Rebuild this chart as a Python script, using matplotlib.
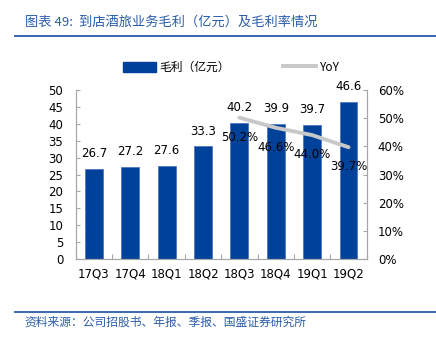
# -*- coding: utf-8 -*-
"""到店酒旅业务毛利(亿元)及毛利率 —— 柱 + 折线双轴图。"""
import numpy as np
import matplotlib
matplotlib.use("Agg")
import matplotlib.pyplot as plt
from matplotlib.lines import Line2D
from matplotlib.patches import Patch

plt.rcParams["font.family"] = ["Noto Sans CJK SC", "DejaVu Sans"]

quarters = ["17Q3", "17Q4", "18Q1", "18Q2", "18Q3", "18Q4", "19Q1", "19Q2"]
gross_profit = [26.7, 27.2, 27.6, 33.3, 40.2, 39.9, 39.7, 46.6]
yoy_quarters = ["18Q3", "18Q4", "19Q1", "19Q2"]
yoy = [0.502, 0.466, 0.440, 0.397]

BLUE = "#00419A"
GRAY_LINE = "#C8C8C8"
SPINE = "#A6A6A6"
TITLE_BLUE = "#2A5CAA"
NUM_FONT = ["DejaVu Sans"]

fig = plt.figure(figsize=(4.36, 3.38), dpi=100)
ax = fig.add_axes([0.1736, 0.2337, 0.8410 - 0.1736, 0.5000])
ax2 = ax.twinx()

x = np.arange(len(quarters))
ax.bar(x, gross_profit, width=0.49, color=BLUE, edgecolor="#4F78BE",
       linewidth=0.6, zorder=2)
for xi, v in zip(x, gross_profit):
    ax.annotate(f"{v:.1f}", (xi, v), textcoords="offset points", xytext=(0, 11),
                ha="center", va="center", fontsize=8.5, family=NUM_FONT)

xl = [quarters.index(q) for q in yoy_quarters]
ax2.plot(xl, yoy, color=GRAY_LINE, lw=2.8, solid_capstyle="round", zorder=3)
for xi, v in zip(xl, yoy):
    ax2.annotate(f"{v * 100:.1f}%", (xi, v), textcoords="offset points",
                 xytext=(0, -14), ha="center", va="center", fontsize=8.5,
                 family=NUM_FONT)

ax.set_xlim(-0.5, len(quarters) - 0.5)
ax.set_ylim(0, 50)
ax.set_yticks(np.arange(0, 51, 5))
ax2.set_ylim(0, 0.6)
ax2.set_yticks(np.arange(0, 0.61, 0.1))
ax2.set_yticklabels([f"{int(round(t * 100))}%" for t in np.arange(0, 0.61, 0.1)])

ax.set_xticks(x)
ax.set_xticklabels(quarters)
ax.set_xticks(np.arange(-0.5, len(quarters), 1), minor=True)
ax.tick_params(axis="x", which="major", length=0, pad=6, labelsize=8.5)
ax.tick_params(axis="x", which="minor", direction="in", length=3.5,
               color=SPINE, width=0.8)
ax.tick_params(axis="y", direction="in", length=3, color=SPINE, pad=9,
               labelsize=8.5)
ax2.tick_params(axis="y", direction="in", length=3, color=SPINE, pad=8,
                labelsize=8.5)
for lab in ax.get_xticklabels() + ax.get_yticklabels() + ax2.get_yticklabels():
    lab.set_family(NUM_FONT)

for a in (ax, ax2):
    a.spines["top"].set_visible(False)
    for s in ("left", "right", "bottom"):
        a.spines[s].set_color(SPINE)
        a.spines[s].set_linewidth(0.8)

handles = [Patch(facecolor=BLUE, edgecolor=BLUE),
           Line2D([0], [0], color=GRAY_LINE, lw=2.8)]
fig.legend(handles, ["毛利（亿元）", "YoY"], loc="center",
           bbox_to_anchor=(0.53, 0.80), ncol=2, frameon=False, fontsize=8.5,
           handlelength=2.8, handleheight=1.0, columnspacing=4.5,
           handletextpad=0.3)

# 标题与来源
fig.text(0.057, 0.935, "图表 49:  到店酒旅业务毛利（亿元）及毛利率情况",
         color=TITLE_BLUE, fontsize=9.5, style="italic", va="center")
fig.add_artist(Line2D([0.035, 1.0], [1 - 36 / 338] * 2, color=TITLE_BLUE, lw=1.3))
fig.add_artist(Line2D([0.035, 1.0], [1 - 312 / 338] * 2, color=TITLE_BLUE, lw=1.3))
fig.text(0.057, 1 - 322 / 338, "资料来源：公司招股书、年报、季报、国盛证券研究所",
         color=TITLE_BLUE, fontsize=8.5, style="italic", va="center")

fig.savefig("out.png", dpi=100)
